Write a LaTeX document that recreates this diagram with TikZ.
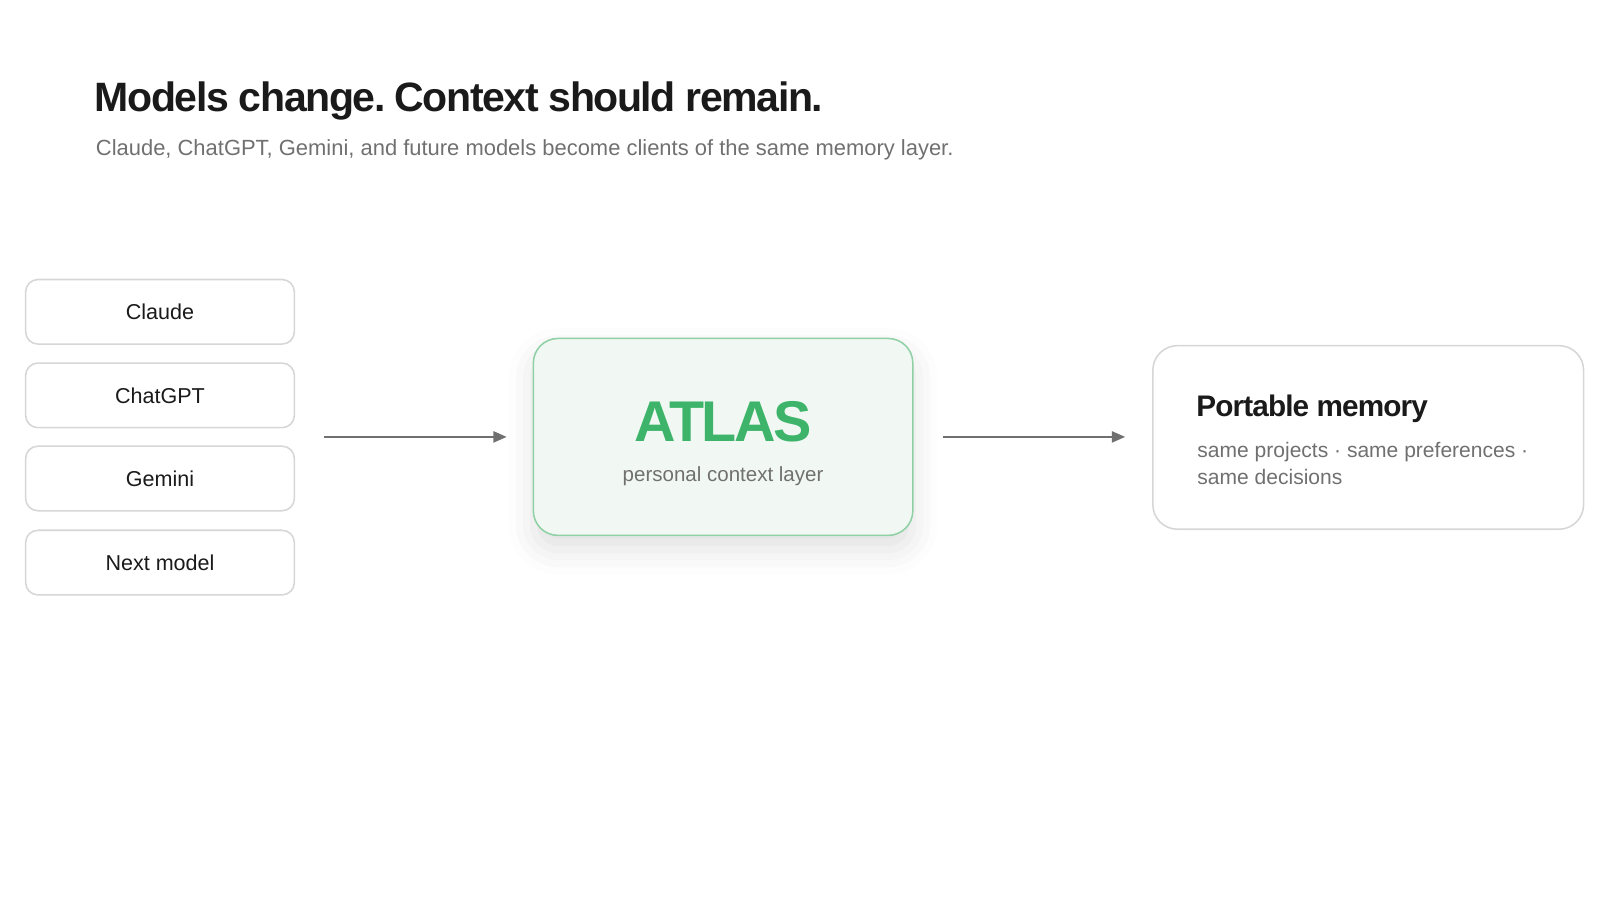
\documentclass[tikz,border=0pt]{standalone}
\usepackage{fontspec}
\setmainfont{Liberation Sans}
\usetikzlibrary{shadows.blur,arrows.meta}
\definecolor{txt}{HTML}{1A1A1A}
\definecolor{sub}{HTML}{707070}
\definecolor{bord}{HTML}{D6D6D6}
\definecolor{gfill}{HTML}{F1F8F3}
\definecolor{gbord}{HTML}{8FD0A5}
\definecolor{gtxt}{HTML}{3DB46A}
\definecolor{arr}{HTML}{707070}
\begin{document}
\begin{tikzpicture}[x=1pt,y=-1pt,
  model/.style={draw=bord,line width=1.5pt,rounded corners=12pt,fill=white,minimum width=262pt,minimum height=63pt,font=\fontsize{21}{25}\selectfont,text=txt,inner sep=0pt},
  conn/.style={draw=arr,line width=1.5pt,-{Triangle[length=13pt,width=11pt]}}]
\useasboundingbox (0,0) rectangle (1560,877.5);
\node[anchor=base west,font=\bfseries\fontsize{40}{46}\selectfont,text=txt] (title) at (89,109) {\addfontfeature{LetterSpace=-3.5}Models change.\hspace{-4pt} Context should remain.};
\node[anchor=base west,font=\fontsize{21.4}{25}\selectfont,text=sub] (subt) at (90,152) {Claude, ChatGPT, Gemini, and future models become clients of the same memory layer.};
\node[model] (m1) at (156,304) {Claude};
\node[model] (m2) at (156,385.5) {ChatGPT};
\node[model] (m3) at (156,466.5) {Gemini};
\node[model] (m4) at (156,548.5) {Next model};
\node[draw=gbord,fill=gfill,line width=1.5pt,rounded corners=24pt,minimum width=370pt,minimum height=192pt,
  blur shadow={shadow xshift=0pt,shadow yshift=-14pt,shadow blur radius=24pt,shadow opacity=12}] (atlas) at (705,426) {};
\node[font=\bfseries\fontsize{56}{60}\selectfont,text=gtxt] (atl) at (705,411) {\addfontfeature{LetterSpace=-4}ATLAS};
\node[font=\fontsize{20}{24}\selectfont,text=sub] (pcl) at (705,464) {personal context layer};
\node[draw=bord,line width=1.5pt,rounded corners=24pt,minimum width=420pt,minimum height=179pt,fill=white] (pm) at (1334,426.5) {};
\node[anchor=base west,font=\bfseries\fontsize{29}{32}\selectfont,text=txt] (pmt) at (1163,406) {\addfontfeature{LetterSpace=-3}Portable memory};
\node[anchor=base west,font=\fontsize{20.5}{24}\selectfont,text=sub,align=left] (pms) at (1164,446) {same projects · same preferences ·};
\node[anchor=base west,font=\fontsize{20.5}{24}\selectfont,text=sub] (pms2) at (1164,472) {same decisions};
\coordinate (a1s) at (316,426); \coordinate (a1e) at (494,426);
\coordinate (a2s) at (919,426); \coordinate (a2e) at (1097,426);
\draw[conn] (a1s) -- (a1e);
\draw[conn] (a2s) -- (a2e);
\end{tikzpicture}
\end{document}
